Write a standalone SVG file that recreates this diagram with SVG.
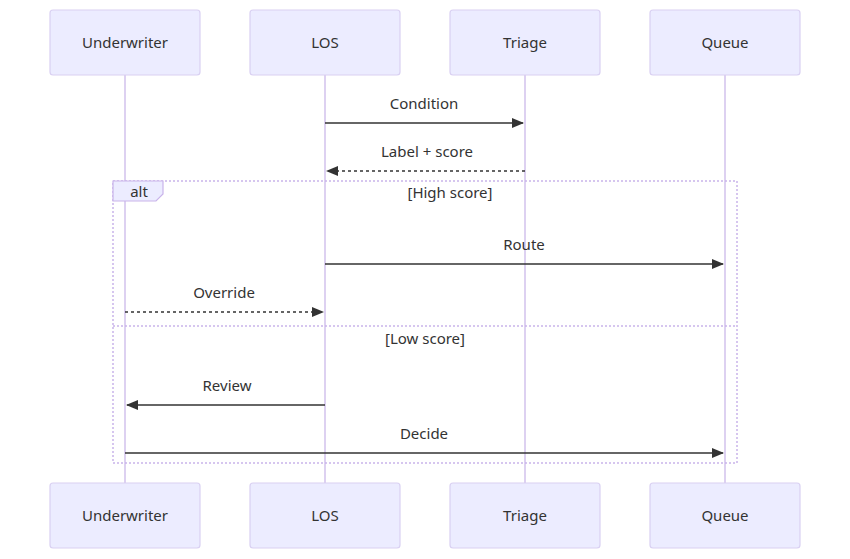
<svg xmlns="http://www.w3.org/2000/svg" width="850" height="559" viewBox="0 0 850 559">
<defs>
<style>
.actor{fill:#ECECFF;stroke:#d9d0f2;stroke-width:1.2}
.life{stroke:#d2c2ec;stroke-width:1.5}
.t{font-family:"Noto Sans",sans-serif;font-size:15px;fill:#333;text-anchor:middle}
.msg{stroke:#333;stroke-width:1.5;fill:none}
.dash{stroke-dasharray:3,3}
.loop{stroke:#c9b4ea;stroke-width:1.5;fill:none;stroke-dasharray:2,2}
</style>
<marker id="ah" viewBox="0 0 12 12" refX="11" refY="6" markerWidth="12" markerHeight="12" orient="auto" markerUnits="userSpaceOnUse"><path d="M0,1 L12,6 L0,11 z" fill="#333"/></marker>
</defs>
<rect width="850" height="559" fill="#fff"/>
<g id="lifelines">
<line class="life" x1="125" y1="75" x2="125" y2="483"/>
<line class="life" x1="325" y1="75" x2="325" y2="483"/>
<line class="life" x1="525" y1="75" x2="525" y2="483"/>
<line class="life" x1="725" y1="75" x2="725" y2="483"/>
</g>
<g id="underwriter"><rect class="actor" x="50" y="10" width="150" height="65" rx="3"/><text class="t" x="125" y="48">Underwriter</text><rect class="actor" x="50" y="483" width="150" height="65" rx="3"/><text class="t" x="125" y="521">Underwriter</text></g>
<g id="los"><rect class="actor" x="250" y="10" width="150" height="65" rx="3"/><text class="t" x="325" y="48">LOS</text><rect class="actor" x="250" y="483" width="150" height="65" rx="3"/><text class="t" x="325" y="521">LOS</text></g>
<g id="triage"><rect class="actor" x="450" y="10" width="150" height="65" rx="3"/><text class="t" x="525" y="48">Triage</text><rect class="actor" x="450" y="483" width="150" height="65" rx="3"/><text class="t" x="525" y="521">Triage</text></g>
<g id="queue"><rect class="actor" x="650" y="10" width="150" height="65" rx="3"/><text class="t" x="725" y="48">Queue</text><rect class="actor" x="650" y="483" width="150" height="65" rx="3"/><text class="t" x="725" y="521">Queue</text></g>
<g id="alt">
<rect class="loop" x="113" y="181" width="624" height="282"/>
<path d="M113,181 H163 V194 L156,201 H113 Z" fill="#ECECFF" stroke="#c9b4ea" stroke-width="1.2"/>
<text class="t" x="139" y="197">alt</text>
<text class="t" x="450" y="198">[High score]</text>
<line class="loop" x1="113" y1="326" x2="737" y2="326"/>
<text class="t" x="425" y="344">[Low score]</text>
</g>
<g id="connectors">
<line class="msg" x1="325" y1="123" x2="523" y2="123" marker-end="url(#ah)"/>
<text class="t" x="424" y="109">Condition</text>
<line class="msg dash" x1="525" y1="171" x2="327" y2="171" marker-end="url(#ah)"/>
<text class="t" x="427" y="157">Label + score</text>
<line class="msg" x1="325" y1="264" x2="723" y2="264" marker-end="url(#ah)"/>
<text class="t" x="524" y="250">Route</text>
<line class="msg dash" x1="125" y1="312" x2="323" y2="312" marker-end="url(#ah)"/>
<text class="t" x="224" y="298">Override</text>
<line class="msg" x1="325" y1="405" x2="127" y2="405" marker-end="url(#ah)"/>
<text class="t" x="227" y="391">Review</text>
<line class="msg" x1="125" y1="453" x2="723" y2="453" marker-end="url(#ah)"/>
<text class="t" x="424" y="439">Decide</text>
</g>
</svg>
